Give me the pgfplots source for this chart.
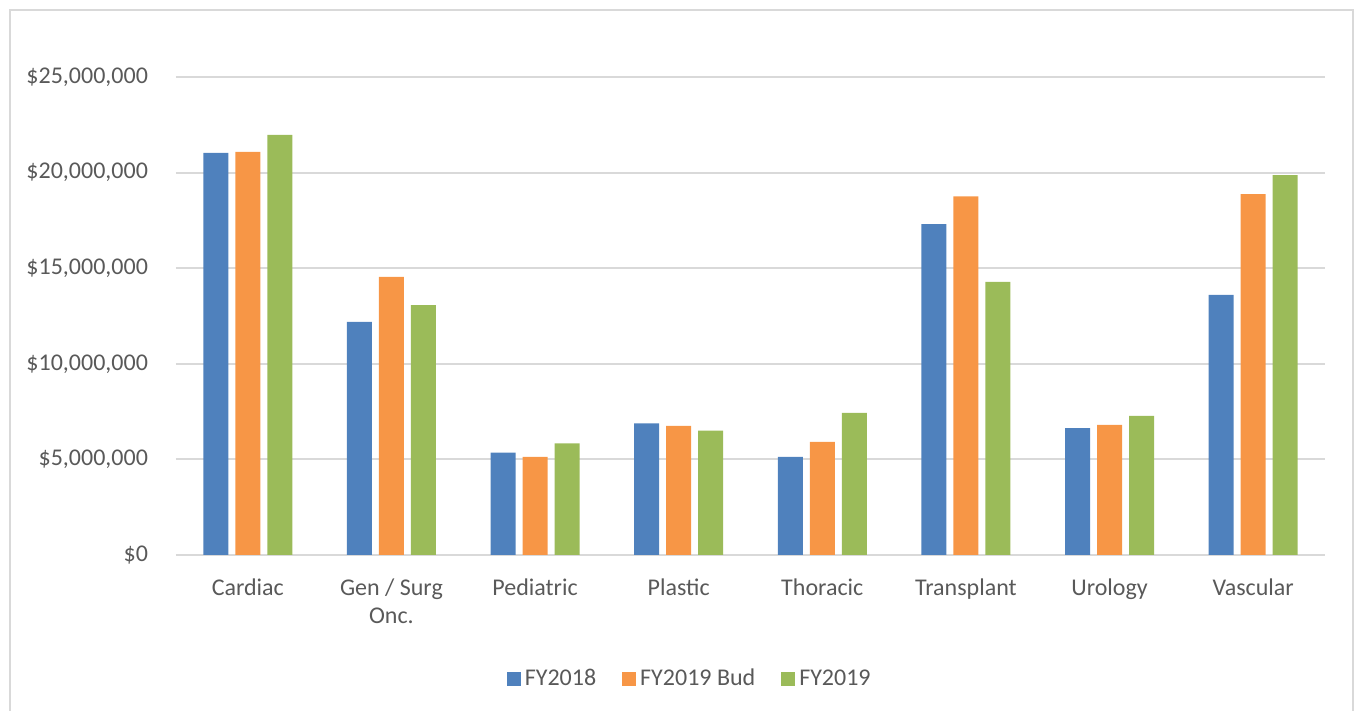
\documentclass[border=0pt]{standalone}
\usepackage{pgfplots}
\pgfplotsset{compat=1.18}
\usepackage{fontspec}
\setmainfont{Carlito}

\definecolor{fyblue}{HTML}{4F81BD}
\definecolor{fyorange}{HTML}{F79646}
\definecolor{fygreen}{HTML}{9BBB59}
\definecolor{txt}{HTML}{595959}
\definecolor{gridc}{HTML}{D9D9D9}

% values in millions of dollars
\pgfplotstableread{
x fy18 bud fy19
0 21.03 21.08 21.97
1 12.19 14.54 13.07
2 5.36 5.13 5.84
3 6.88 6.75 6.50
4 5.13 5.91 7.43
5 17.31 18.76 14.28
6 6.64 6.80 7.27
7 13.60 18.88 19.87
}\cost

\begin{document}
\begin{tikzpicture}[x=1pt,y=1pt]
\useasboundingbox (-88,-78) rectangle (589.5,277.5);
\draw[gridc, line width=1pt] (-83,-78) -- (-83,272.5) -- (588.5,272.5) -- (588.5,-78);
\begin{axis}[
  at={(0,0)}, anchor=south west,
  scale only axis,
  width=574.5pt, height=239pt,
  xmin=-0.5, xmax=7.5,
  ymin=0, ymax=25,
  axis x line*=bottom,
  axis y line*=left,
  x axis line style={gridc, line width=1pt, -},
  y axis line style={draw=none},
  ymajorgrids, grid style={gridc, line width=1pt},
  major tick length=0pt,
  xtick=data,
  xticklabels={Cardiac,{Gen / Surg\\Onc.},Pediatric,Plastic,Thoracic,Transplant,Urology,Vascular},
  xticklabel style={align=center, text=txt, yshift=-8.5pt},
  ytick={0,5,10,15,20,25},
  yticklabels={{\$0},{\$5,000,000},{\$10,000,000},{\$15,000,000},{\$20,000,000},{\$25,000,000}},
  yticklabel style={text=txt, anchor=east, xshift=-10.5pt},
  font=\fontsize{12}{14}\selectfont,
  ybar, bar width=12.5pt,
  legend style={at={(0.448,-0.259)}, anchor=center, draw=none,
    legend columns=-1, text=txt,
    /tikz/every even column/.append style={column sep=11pt}},
  legend image code/.code={\fill[#1] (-1pt,-3.5pt) rectangle (6pt,3.5pt);},
]
\addplot[fill=fyblue, draw=none, bar shift=-16pt] table[x=x,y=fy18]{\cost};
\addlegendentry{FY2018}
\addplot[fill=fyorange, draw=none, bar shift=0pt] table[x=x,y=bud]{\cost};
\addlegendentry{FY2019 Bud}
\addplot[fill=fygreen, draw=none, bar shift=16pt] table[x=x,y=fy19]{\cost};
\addlegendentry{FY2019}
\end{axis}
\end{tikzpicture}
\end{document}
